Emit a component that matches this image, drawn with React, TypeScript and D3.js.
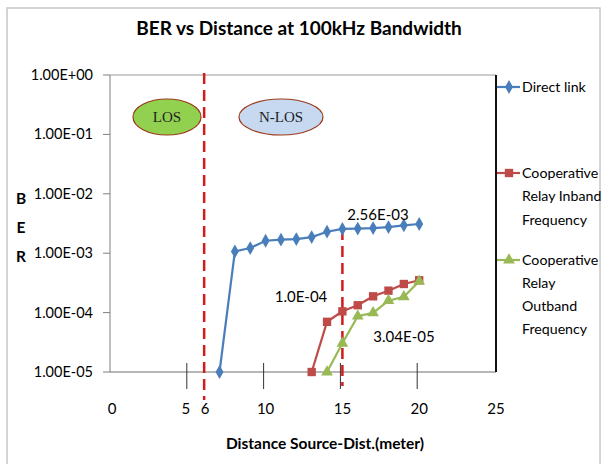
import * as d3 from 'd3'

const distances = [7, 8, 9, 10, 11, 12, 13, 14, 15, 16, 17, 18, 19, 20]
const directLink = [1e-5, 1.07e-3, 1.22e-3, 1.62e-3, 1.69e-3, 1.73e-3, 1.87e-3, 2.3e-3, 2.56e-3, 2.6e-3, 2.65e-3, 2.75e-3, 2.95e-3, 3.1e-3]

const inbandX = [13, 14, 15, 16, 17, 18, 19, 20]
const inband = [1e-5, 7e-5, 1.05e-4, 1.33e-4, 1.88e-4, 2.34e-4, 3.03e-4, 3.5e-4]

const outbandX = [14, 15, 16, 17, 18, 19, 20]
const outband = [1e-5, 3.04e-5, 8.7e-5, 9.9e-5, 1.59e-4, 1.84e-4, 3.36e-4]

const yTicks = [1, 1e-1, 1e-2, 1e-3, 1e-4, 1e-5]
const yTickLabels = ['1.00E+00', '1.00E-01', '1.00E-02', '1.00E-03', '1.00E-04', '1.00E-05']
const xTickLabels = [0, 5, 6, 10, 15, 20, 25]
const xTickMarks = [5, 10, 15, 20]

const BLUE = '#4a7ebb'
const RED = '#be4b48'
const GREEN = '#98b954'
const DASH = '#d01c1c'
const FONT = 'Lato, "Open Sans", sans-serif'

export default function App() {
  const x = d3.scaleLinear().domain([0, 25]).range([112, 496])
  const y = d3.scaleLog().domain([1e-5, 1]).range([372, 75])

  const line = d3
    .line<[number, number]>()
    .x(d => x(d[0]))
    .y(d => y(d[1]))

  const blue = distances.map((d, i) => [d, directLink[i]] as [number, number])
  const red = inbandX.map((d, i) => [d, inband[i]] as [number, number])
  const green = outbandX.map((d, i) => [d, outband[i]] as [number, number])

  const diamond = d3.symbol(d3.symbolDiamond, 55)()
  const square = d3.symbol(d3.symbolSquare, 70)()
  const triangle = d3.symbol(d3.symbolTriangle, 60)()

  return (
    <svg width={602} height={464} style={{ position: 'absolute', left: 0, top: 0 }}>
      <rect x={0} y={0} width={602} height={464} fill="#fff" />
      <rect x={7} y={8} width={593} height={470} fill="none" stroke="#c8c8c8" strokeWidth={1.5} />

      <text x={299} y={35} textAnchor="middle" fontFamily={FONT} fontWeight="bold" fontSize={19}>
        BER vs Distance at 100kHz Bandwidth
      </text>

      {/* plot frame */}
      <line x1={110} x2={496} y1={75} y2={75} stroke="#9a9a9a" />
      <line x1={110} x2={110} y1={75} y2={372} stroke="#7f7f7f" />
      <line x1={110} x2={496} y1={372} y2={372} stroke="#6f6f6f" />
      <line x1={496} x2={496} y1={75} y2={372} stroke="#111" strokeWidth={2} />

      {yTicks.map((t, i) => (
        <g key={t}>
          <line x1={103} x2={110} y1={y(t)} y2={y(t)} stroke="#7f7f7f" />
          <text x={93} y={y(t)} dy="0.35em" textAnchor="end" fontFamily={FONT} fontSize={14.5}>
            {yTickLabels[i]}
          </text>
        </g>
      ))}

      {xTickMarks.map(t => (
        <line key={t} x1={x(t) - 2} x2={x(t) - 2} y1={363} y2={389} stroke="#333" />
      ))}
      {xTickLabels.map(t => (
        <text key={t} x={x(t) + (t === 5 ? -3 : t === 6 ? 1 : 0)} y={414} textAnchor="middle" fontFamily={FONT} fontSize={15}>
          {t}
        </text>
      ))}

      <text x={325} y={449} textAnchor="middle" fontFamily={FONT} fontWeight="bold" fontSize={15.5}>
        Distance Source-Dist.(meter)
      </text>
      {['B', 'E', 'R'].map((c, i) => (
        <text key={c} x={21} y={204 + i * 29} textAnchor="middle" fontFamily={FONT} fontWeight="bold" fontSize={15.5}>
          {c}
        </text>
      ))}

      {/* LOS / N-LOS regions */}
      <ellipse cx={167} cy={117} rx={34} ry={18} fill="#92d050" stroke="#9c3a1a" strokeWidth={1.2} />
      <text x={167} y={122} textAnchor="middle" fontFamily='"Liberation Serif", serif' fontSize={15} fill="#222">
        LOS
      </text>
      <ellipse cx={281} cy={117} rx={42} ry={18} fill="#c6d9f1" stroke="#9c3a1a" strokeWidth={1.2} />
      <text x={281} y={122} textAnchor="middle" fontFamily='"Liberation Serif", serif' fontSize={15} fill="#222">
        N-LOS
      </text>

      <line x1={x(6)} x2={x(6)} y1={73} y2={400} stroke={DASH} strokeWidth={2.5} strokeDasharray="11 6" />
      <line x1={x(15)} x2={x(15)} y1={y(2.56e-3)} y2={386} stroke={DASH} strokeWidth={2.5} strokeDasharray="11 6" />

      <path d={line(blue) ?? ''} fill="none" stroke={BLUE} strokeWidth={2.2} />
      <path d={line(red) ?? ''} fill="none" stroke={RED} strokeWidth={2.2} />
      <path d={line(green) ?? ''} fill="none" stroke={GREEN} strokeWidth={2.2} />
      {blue.map((d, i) => (
        <path key={'b' + i} d={diamond ?? ''} transform={`translate(${x(d[0])},${y(d[1])})`} fill={BLUE} />
      ))}
      {red.map((d, i) => (
        <path key={'r' + i} d={square ?? ''} transform={`translate(${x(d[0])},${y(d[1])})`} fill={RED} />
      ))}
      {green.map((d, i) => (
        <path key={'g' + i} d={triangle ?? ''} transform={`translate(${x(d[0])},${y(d[1])})`} fill={GREEN} />
      ))}

      <text x={378} y={220} textAnchor="middle" fontFamily={FONT} fontSize={15}>2.56E-03</text>
      <text x={301} y={302} textAnchor="middle" fontFamily={FONT} fontSize={15}>1.0E-04</text>
      <text x={404} y={342} textAnchor="middle" fontFamily={FONT} fontSize={15}>3.04E-05</text>

      {/* legend */}
      <g fontFamily={FONT} fontSize={14.2}>
        <line x1={497} x2={520} y1={87} y2={87} stroke={BLUE} strokeWidth={2.2} />
        <path d={diamond ?? ''} transform="translate(509,87)" fill={BLUE} />
        <text x={522} y={87} dy="0.35em">Direct link</text>

        <line x1={497} x2={520} y1={173} y2={173} stroke={RED} strokeWidth={2.2} />
        <path d={square ?? ''} transform="translate(509,173)" fill={RED} />
        {['Cooperative', 'Relay Inband', 'Frequency'].map((s, i) => (
          <text key={s} x={522} y={173 + i * 23.5} dy="0.35em">{s}</text>
        ))}

        <line x1={497} x2={520} y1={260} y2={260} stroke={GREEN} strokeWidth={2.2} />
        <path d={triangle ?? ''} transform="translate(509,260)" fill={GREEN} />
        {['Cooperative', 'Relay', 'Outband', 'Frequency'].map((s, i) => (
          <text key={s} x={522} y={260 + i * 23} dy="0.35em">{s}</text>
        ))}
      </g>
    </svg>
  )
}
